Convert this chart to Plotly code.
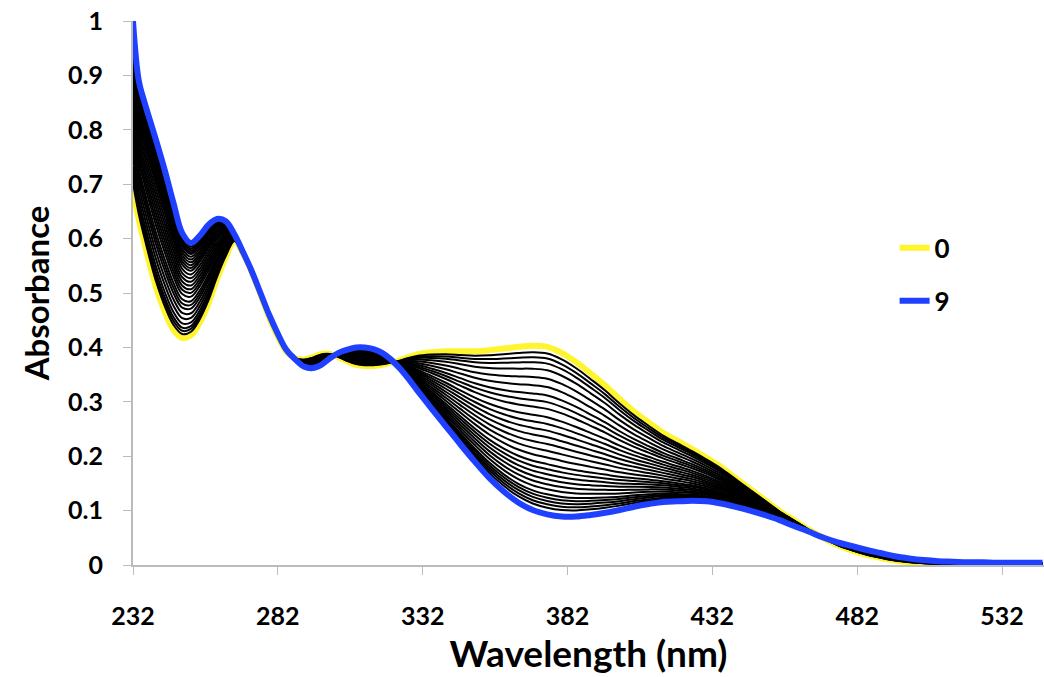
import plotly.graph_objects as go

wavelength = [232, 234, 236, 238, 240, 243, 246, 249, 252, 255, 258, 261, 264, 267, 270, 273,
              276, 279, 282, 285, 288, 291, 294, 297, 300, 303, 306, 309, 312, 315, 318, 321,
              324, 327, 330, 335, 340, 345, 350, 355, 360, 365, 370, 375, 380, 385, 390, 395,
              400, 405, 410, 415, 420, 425, 430, 435, 440, 445, 450, 455, 460, 465, 470, 475,
              480, 485, 490, 495, 500, 505, 510, 515, 520, 525, 530, 535, 540, 546]

abs_0 = [0.69, 0.635, 0.59, 0.548, 0.51, 0.465, 0.432, 0.417, 0.422, 0.445, 0.48, 0.525, 0.565, 0.595, 0.572, 0.538,
         0.497, 0.455, 0.42, 0.392, 0.38, 0.378, 0.382, 0.388, 0.388, 0.382, 0.374, 0.368, 0.366, 0.366, 0.368, 0.372,
         0.376, 0.382, 0.387, 0.391, 0.393, 0.393, 0.393, 0.395, 0.398, 0.401, 0.403, 0.401, 0.39, 0.373, 0.352, 0.33,
         0.305, 0.282, 0.262, 0.243, 0.228, 0.213, 0.197, 0.18, 0.16, 0.14, 0.12, 0.1, 0.083, 0.066, 0.051, 0.037,
         0.027, 0.019, 0.013, 0.008, 0.005, 0.003, 0.002, 0.001, 0.001, 0.001, 0.001, 0.001, 0.001, 0.001]

abs_9 = [1.0, 0.89, 0.85, 0.815, 0.78, 0.725, 0.665, 0.61, 0.592, 0.605, 0.625, 0.636, 0.632, 0.608, 0.575, 0.54,
         0.5, 0.46, 0.425, 0.395, 0.378, 0.365, 0.362, 0.368, 0.38, 0.39, 0.396, 0.4, 0.4, 0.397, 0.39, 0.378,
         0.362, 0.343, 0.322, 0.288, 0.255, 0.222, 0.19, 0.16, 0.135, 0.115, 0.101, 0.093, 0.089, 0.089, 0.092, 0.096,
         0.101, 0.107, 0.112, 0.116, 0.117, 0.118, 0.117, 0.113, 0.107, 0.1, 0.092, 0.083, 0.072, 0.062, 0.051, 0.042,
         0.035, 0.028, 0.022, 0.016, 0.012, 0.009, 0.007, 0.006, 0.005, 0.005, 0.004, 0.004, 0.004, 0.004]

intermediate_fraction = [0.04, 0.07, 0.10, 0.14, 0.19, 0.24, 0.29, 0.33, 0.37, 0.42, 0.46, 0.50, 0.54,
                         0.58, 0.62, 0.66, 0.70, 0.73, 0.76, 0.79, 0.82, 0.85, 0.88, 0.90, 0.92, 0.94, 0.96]

x_ticks = [232, 282, 332, 382, 432, 482, 532]
y_ticks = [0, 0.1, 0.2, 0.3, 0.4, 0.5, 0.6, 0.7, 0.8, 0.9, 1]
y_ticktext = ["0", "0.1", "0.2", "0.3", "0.4", "0.5", "0.6", "0.7", "0.8", "0.9", "1"]

FONT = "Lato"
W = "bold"

fig = go.Figure()

fig.add_trace(go.Scatter(x=wavelength, y=abs_0, mode="lines", name="0",
                         line=dict(color="#FFF52E", width=6, shape="spline"),
                         legendgroup="a"))

for f in intermediate_fraction:
    ys = [a0 * (1 - f) + a9 * f for a0, a9 in zip(abs_0, abs_9)]
    fig.add_trace(go.Scatter(x=wavelength, y=ys, mode="lines", showlegend=False,
                             line=dict(color="black", width=2, shape="spline"),
                             hoverinfo="skip"))

fig.add_trace(go.Scatter(x=wavelength, y=abs_9, mode="lines", name="9",
                         line=dict(color="#1F40FF", width=6, shape="spline"),
                         legendgroup="b"))

fig.update_layout(
    width=1044, height=677,
    margin=dict(l=133, r=0, t=21, b=112),
    plot_bgcolor="white", paper_bgcolor="white",
    font=dict(family=FONT, color="black"),
    showlegend=True,
    legend=dict(x=0.836, y=0.626, xanchor="left", yanchor="top",
                font=dict(family=FONT, size=26, weight=W, color="black"),
                tracegroupgap=16, bgcolor="rgba(0,0,0,0)", itemwidth=30),
    xaxis=dict(range=[232, 546.5], tickvals=x_ticks, ticks="outside", ticklen=8,
               tickcolor="#BBBBBB", showline=True, linecolor="#BBBBBB", linewidth=2,
               showgrid=False, zeroline=False, ticklabelstandoff=20, automargin=False,
               ticklabeloverflow="allow",
               tickfont=dict(family=FONT, size=25, weight=W, color="black"),
               title=dict(text="Wavelength (nm)", standoff=12,
                          font=dict(family=FONT, size=37, weight=W, color="black"))),
    yaxis=dict(range=[0, 1], tickvals=y_ticks, ticktext=y_ticktext, ticks="outside", ticklen=8,
               tickcolor="#BBBBBB", showline=True, linecolor="#BBBBBB", linewidth=2,
               showgrid=False, zeroline=False, ticklabelstandoff=15, automargin=False,
               ticklabeloverflow="allow",
               tickfont=dict(family=FONT, size=25, weight=W, color="black"),
               title=dict(text="Absorbance", standoff=8,
                          font=dict(family=FONT, size=33, weight=W, color="black"))),
)

fig.write_html("out.html", config={"displayModeBar": False},
               post_script="document.body.style.margin='0';document.body.style.overflow='hidden';")
